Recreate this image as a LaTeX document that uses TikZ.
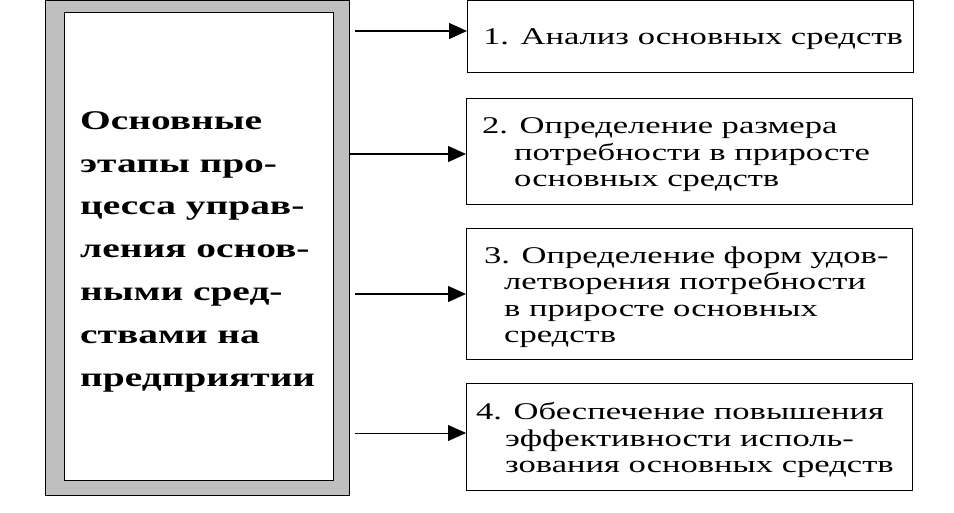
\documentclass[tikz,border=0pt]{standalone}
\usepackage{fontspec}
\newfontfamily\rfont[FakeStretch=1.44]{Liberation Serif}
\newfontfamily\lfont[FakeStretch=1.46]{Liberation Serif}
\usetikzlibrary{arrows.meta}
\tikzset{
  boxframe/.style={draw=black, line width=1.3pt, anchor=north west, minimum width=446pt, inner sep=0pt},
  boxtext/.style={anchor=west, align=left, inner sep=0pt, font=\rfont\fontsize{24}{26.5}\selectfont},
  conn/.style={line width=1.2pt, -{Triangle[length=18pt,width=16pt]}},
}
\newcommand{\ind}[1]{\hspace*{#1}}
\begin{document}
\begin{tikzpicture}[x=1pt,y=-1pt]
\useasboundingbox (0,0) rectangle (954,512);
% left framed box
\node[draw=black, line width=1pt, fill=black!25, anchor=north west, minimum width=304pt, minimum height=495pt, inner sep=0pt] (frame) at (45,0) {};
\node[draw=black, line width=1.3pt, fill=white, anchor=north west, minimum width=269pt, minimum height=468pt, inner sep=0pt] (main) at (64,12) {};
\node[anchor=west, align=left, inner sep=0pt, font=\lfont\bfseries\fontsize{27}{42.8}\selectfont] (mtxt) at ([xshift=16pt,yshift=-5pt]main.west)
  {Основные\\этапы про-\\цесса управ-\\ления основ-\\ными сред-\\ствами на\\предприятии};
% right boxes
\node[boxframe, minimum height=72pt] (b1) at (467,0) {};
\node[boxframe, minimum height=106pt] (b2) at (466,98) {};
\node[boxframe, minimum height=131pt] (b3) at (466,228) {};
\node[boxframe, minimum height=107pt] (b4) at (466,383) {};
\node[boxtext] (t1) at ([xshift=16pt,yshift=-2pt]b1.west) {1. Анализ основных средств};
\node[boxtext] (t2) at ([xshift=16pt,yshift=-3pt]b2.west) {2. Определение размера\\\ind{32pt}потребности в приросте\\\ind{32pt}основных средств};
\node[boxtext] (t3) at ([xshift=18pt,yshift=-3pt]b3.west) {3. Определение форм удов-\\\ind{20pt}летворения потребности\\\ind{20pt}в приросте основных\\\ind{20pt}средств};
\node[boxtext] (t4) at ([xshift=10pt,yshift=-3pt]b4.west) {4. Обеспечение повышения\\\ind{29pt}эффективности исполь-\\\ind{29pt}зования основных средств};
% connectors
\coordinate (s1) at (355,31);
\coordinate (s2) at (350,154);
\coordinate (s3) at (355,294);
\coordinate (s4) at (355,433);
\draw[conn] (s1) -- (s1 -| b1.west);
\draw[conn] (s2) -- (s2 -| b2.west);
\draw[conn] (s3) -- (s3 -| b3.west);
\draw[conn, line width=0.4pt] (s4) -- (s4 -| b4.west);
\end{tikzpicture}
\end{document}
